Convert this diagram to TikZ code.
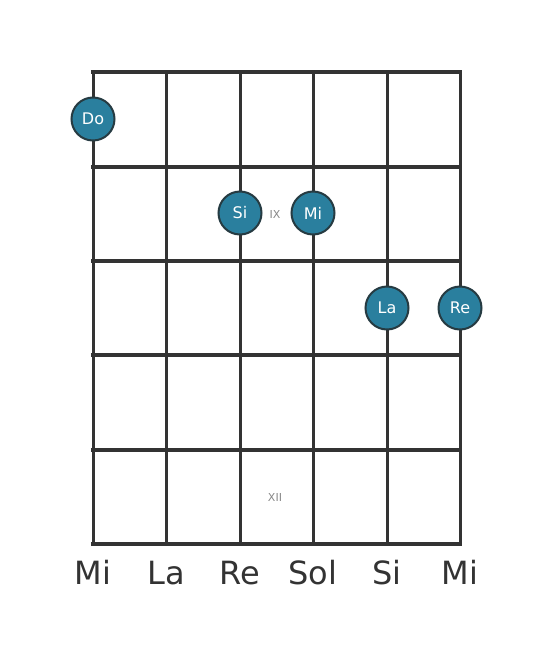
\documentclass[tikz,border=0pt]{standalone}
\usepackage{fontspec}
\setmainfont{DejaVu Sans}
\definecolor{gridc}{HTML}{333333}
\definecolor{notefill}{HTML}{2A7F9E}
\definecolor{notestroke}{HTML}{263B42}
\definecolor{fretlbl}{HTML}{888888}
\begin{document}
\begin{tikzpicture}[x=1pt,y=-1pt,
  fretline/.style={line width=4.5pt,draw=gridc},
  stringline/.style={line width=3pt,draw=gridc},
  note/.style={circle,draw=notestroke,line width=2pt,fill=notefill,minimum size=43pt,inner sep=0pt,text=white,font=\fontsize{16}{16}\selectfont},
  fretnum/.style={text=fretlbl,font=\fontsize{11}{11}\selectfont},
  strname/.style={text=gridc,font=\fontsize{32}{32}\selectfont,anchor=base}]
\useasboundingbox (0,0) rectangle (553,656);
\foreach \x in {93,166,240,313,387,460} \draw[stringline] (\x,72) -- (\x,544);
\foreach \y in {72,167,261,355,450,544} \draw[fretline] (90.75,\y) -- (462.25,\y);
\node[note] (do) at (93,119) {Do};
\node[note] (si) at (240,213) {Si};
\node[note] (mi) at (313,213) {Mi};
\node[note] (la) at (387,308) {La};
\node[note] (re) at (460,308) {Re};
\node[fretnum] (ix) at (275,214) {IX};
\node[fretnum] (xii) at (275,497) {XII};
\node[strname] (s1) at (93,584) {Mi};
\node[strname] (s2) at (166,584) {La};
\node[strname] (s3) at (240,584) {Re};
\node[strname] (s4) at (313,584) {Sol};
\node[strname] (s5) at (387,584) {Si};
\node[strname] (s6) at (460,584) {Mi};
\end{tikzpicture}
\end{document}
